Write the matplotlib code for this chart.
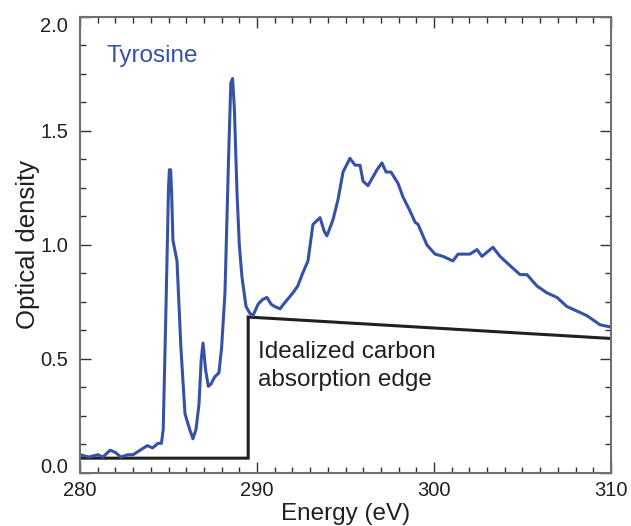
#!/usr/bin/env python3

import matplotlib
matplotlib.use('Agg')
import matplotlib.pyplot as plt
from matplotlib.ticker import MultipleLocator

plt.rcParams['font.family'] = ['Liberation Sans', 'DejaVu Sans']

# Tyrosine C 1s absorption spectrum
energy = [280.0, 280.5, 281.0, 281.3, 281.7, 282.0, 282.3, 282.7, 283.0, 283.4,
          283.8, 284.1, 284.4, 284.6, 284.7, 284.85, 285.0, 285.05, 285.12, 285.18,
          285.25, 285.48, 285.7, 285.93, 286.2, 286.38, 286.55, 286.72, 286.85, 286.95,
          287.1, 287.25, 287.4, 287.6, 287.85, 288.0, 288.19, 288.4, 288.52, 288.62,
          288.72, 288.87, 289.0, 289.15, 289.38, 289.6, 289.77, 290.06, 290.3, 290.56,
          290.8, 291.0, 291.3, 291.6, 292.03, 292.3, 292.6, 292.88, 293.16, 293.56,
          293.8, 293.95, 294.29, 294.58, 294.86, 295.25, 295.54, 295.82, 295.99, 296.27,
          296.78, 297.06, 297.29, 297.57, 297.97, 298.25, 298.64, 298.93, 299.10, 299.60,
          300.06, 300.51, 301.07, 301.36, 302.03, 302.43, 302.71, 303.33, 303.73, 304.29,
          304.86, 305.25, 305.82, 306.38, 306.95, 307.51, 308.08, 308.64, 309.38, 310.0]
od = [0.08, 0.07, 0.08, 0.07, 0.10, 0.09, 0.07, 0.08, 0.08, 0.10,
      0.12, 0.11, 0.13, 0.13, 0.19, 0.70, 1.25, 1.33, 1.33, 1.22,
      1.02, 0.93, 0.55, 0.26, 0.19, 0.15, 0.19, 0.30, 0.50, 0.57,
      0.45, 0.38, 0.39, 0.42, 0.44, 0.55, 0.79, 1.40, 1.71, 1.73,
      1.60, 1.23, 1.00, 0.86, 0.73, 0.70, 0.69, 0.74, 0.76, 0.77,
      0.74, 0.73, 0.72, 0.75, 0.79, 0.82, 0.88, 0.93, 1.09, 1.12,
      1.06, 1.04, 1.11, 1.20, 1.32, 1.38, 1.35, 1.35, 1.28, 1.26,
      1.33, 1.36, 1.32, 1.32, 1.27, 1.21, 1.15, 1.10, 1.09, 1.00,
      0.96, 0.95, 0.93, 0.96, 0.96, 0.98, 0.95, 0.99, 0.95, 0.91,
      0.87, 0.87, 0.82, 0.79, 0.77, 0.73, 0.71, 0.69, 0.65, 0.64]

# idealized step edge
edge_energy = [280.0, 289.5, 289.5, 310.0]
edge_od = [0.065, 0.065, 0.684, 0.59]

blue = '#3652a6'
dark = '#231f20'

fig = plt.figure(figsize=(6.31, 5.26), dpi=100)
ax = fig.add_axes([0.1268, 0.1008, 0.8415, 0.8669])

ax.plot(edge_energy, edge_od, color=dark, linewidth=2.2, solid_joinstyle='miter')
ax.plot(energy, od, color=blue, linewidth=2.2)

ax.set_xlim(280, 310)
ax.set_ylim(0, 2.0)
ax.xaxis.set_major_locator(MultipleLocator(10))
ax.xaxis.set_minor_locator(MultipleLocator(1))
ax.yaxis.set_major_locator(MultipleLocator(0.5))
ax.yaxis.set_minor_locator(MultipleLocator(0.125))
ax.tick_params(which='both', direction='in', top=True, right=True,
               color='#333333', width=1, labelsize=14.5, labelcolor=dark)
ax.tick_params(which='major', length=8)
ax.tick_params(which='minor', length=4.5)
ax.tick_params(axis='y', pad=8.5)
ax.tick_params(axis='x', pad=6)
ax.set_yticks([0, 0.5, 1.0, 1.5, 2.0])
ax.set_yticklabels(['0.0', '0.5', '1.0', '1.5', '2.0'])
ylabels = ax.get_yticklabels()
ylabels[0].set_va('baseline')
ylabels[-1].set_va('top')

for s in ax.spines.values():
    s.set_color('#707070')
    s.set_linewidth(1.5)

ax.set_xlabel('Energy (eV)', fontsize=17.5, color=dark, labelpad=2)
ax.set_ylabel('Optical density', fontsize=18.5, color=dark, labelpad=0)

ax.text(281.5, 1.83, 'Tyrosine', color=blue, fontsize=17.5, va='center', ha='left')
ax.text(290.05, 0.53, 'Idealized carbon', color=dark, fontsize=17.5, va='center', ha='left')
ax.text(290.05, 0.41, 'absorption edge', color=dark, fontsize=17.5, va='center', ha='left')

fig.savefig('out.png', dpi=100)
